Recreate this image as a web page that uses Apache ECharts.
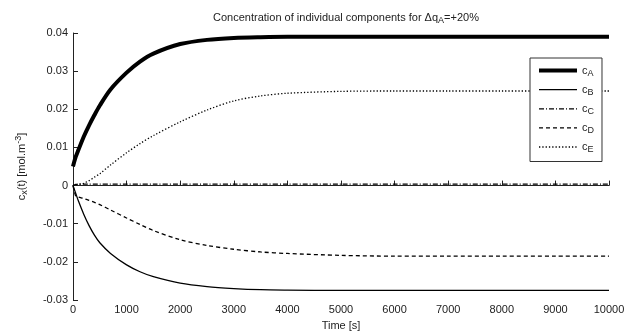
<!DOCTYPE html>
<html>
<head>
<meta charset="utf-8">
<script src="https://cdn.jsdelivr.net/npm/echarts@6/dist/echarts.min.js"></script>
<style>
  html, body { margin: 0; padding: 0; background: #fff; }
  #main { width: 634px; height: 336px; }
</style>
</head>
<body>
<div id="main"></div>
<script>
// sample times [s]
const times = [0, 50, 100, 200, 300, 400, 500, 700, 1000, 1250, 1500, 2000, 2500, 3000, 3500, 4000, 5000, 6000, 7000, 8000, 9000, 10000];

// concentrations [mol.m-3]
const cA = [0.005, 0.0075, 0.0093, 0.0128, 0.0158, 0.0185, 0.021, 0.0252, 0.0296, 0.0325, 0.0346, 0.0371, 0.0382, 0.0387, 0.0389, 0.039, 0.039, 0.039, 0.039, 0.039, 0.039, 0.039];
const cB = [0, -0.002, -0.004, -0.0075, -0.0105, -0.013, -0.015, -0.0178, -0.0208, -0.0226, -0.0239, -0.0256, -0.0265, -0.027, -0.0273, -0.0274, -0.0275, -0.0275, -0.0275, -0.0275, -0.0275, -0.0275];
const cC = [0, 0.0003, 0.0004, 0.0004, 0.0004, 0.0004, 0.0004, 0.0004, 0.0004, 0.0004, 0.0004, 0.0004, 0.0004, 0.0004, 0.0004, 0.0004, 0.0004, 0.0004, 0.0004, 0.0004, 0.0004, 0.0004];
const cD = [0, -0.0027, -0.003, -0.0034, -0.0039, -0.0044, -0.005, -0.0064, -0.0085, -0.0102, -0.0118, -0.0142, -0.0157, -0.0167, -0.0174, -0.0178, -0.0183, -0.0185, -0.0185, -0.0185, -0.0185, -0.0185];
const cE = [0, 0.0002, 0.0003, 0.0006, 0.0013, 0.0022, 0.0031, 0.0054, 0.0086, 0.011, 0.0131, 0.0167, 0.0198, 0.0222, 0.0235, 0.0242, 0.0247, 0.0248, 0.0248, 0.0248, 0.0248, 0.0248];

const seriesNames = ['A', 'B', 'C', 'D', 'E'];
const seriesValues = [cA, cB, cC, cD, cE];

const lineStyles = [
  { width: 4, type: 'solid' },
  { width: 1.3, type: 'solid' },
  { width: 1.3, type: [5, 2, 1, 2] },
  { width: 1.3, type: [4, 3] },
  { width: 1.3, type: [1.3, 2] }
];

const font = 'Liberation Sans, Arial, sans-serif';
const ink = '#222';

const chart = echarts.init(document.getElementById('main'), null, { renderer: 'canvas' });

const option = {
  backgroundColor: '#fff',
  animation: false,
  title: {
    text: '{n|Concentration of individual components for Δq}{s|A}{n|=+20%}',
    left: 341,
    top: 5,
    textAlign: 'center',
    textStyle: {
      fontWeight: 'normal',
      rich: {
        n: { fontFamily: font, fontSize: 11, fontWeight: 'normal', color: ink },
        s: { fontFamily: font, fontSize: 9, fontWeight: 'normal', color: ink, padding: [6, 0, 0, 0] }
      }
    }
  },
  grid: { left: 73, right: 25, top: 33, bottom: 32 },
  legend: {
    orient: 'vertical',
    left: 530,
    top: 58,
    padding: [7, 8, 7, 7],
    itemWidth: 38,
    itemHeight: 14,
    itemGap: 6,
    backgroundColor: '#fff',
    borderColor: '#333',
    borderWidth: 1,
    z: 10,
    data: seriesNames.map((name, i) => ({
      name: name,
      itemStyle: { color: 'rgba(0,0,0,0)', borderWidth: 0 },
      lineStyle: { color: '#000', width: lineStyles[i].width, type: lineStyles[i].type }
    })),
    formatter: name => '{c|c}{s|' + name + '}',
    textStyle: {
      rich: {
        c: { fontFamily: font, fontSize: 11, color: ink },
        s: { fontFamily: font, fontSize: 9, color: ink, padding: [6, 0, 0, 0] }
      }
    }
  },
  xAxis: {
    type: 'value',
    min: 0,
    max: 10000,
    interval: 1000,
    name: 'Time [s]',
    nameLocation: 'middle',
    nameGap: 20,
    nameTextStyle: { fontFamily: font, fontSize: 11, color: ink },
    axisLine: { lineStyle: { color: ink, width: 1 } },
    axisTick: { inside: true, length: 5, lineStyle: { color: ink } },
    axisLabel: { fontFamily: font, fontSize: 11, color: ink, margin: 4, formatter: v => String(v) },
    splitLine: { show: false }
  },
  yAxis: {
    type: 'value',
    min: -0.03,
    max: 0.04,
    interval: 0.01,
    name: '{n|c}{s|x}{n|(t) [mol.m}{p|-3}{n|]}',
    nameLocation: 'middle',
    nameGap: 44,
    nameRotate: 90,
    nameTextStyle: {
      rich: {
        n: { fontFamily: font, fontSize: 11, color: ink },
        s: { fontFamily: font, fontSize: 9, color: ink, padding: [6, 0, 0, 0] },
        p: { fontFamily: font, fontSize: 9, color: ink, padding: [0, 0, 6, 0] }
      }
    },
    axisLine: { show: true, lineStyle: { color: ink, width: 1 } },
    axisTick: { show: true, inside: true, length: 5, lineStyle: { color: ink } },
    axisLabel: { fontFamily: font, fontSize: 11, color: ink, margin: 5 },
    splitLine: { show: false }
  },
  series: seriesNames.map((name, i) => ({
    name: name,
    type: 'line',
    data: times.map((t, k) => [t, seriesValues[i][k]]),
    smooth: 0.3,
    symbol: 'none',
    color: '#000',
    lineStyle: Object.assign({ color: '#000' }, lineStyles[i]),
    z: 2
  }))
};

chart.setOption(option);
</script>
</body>
</html>
